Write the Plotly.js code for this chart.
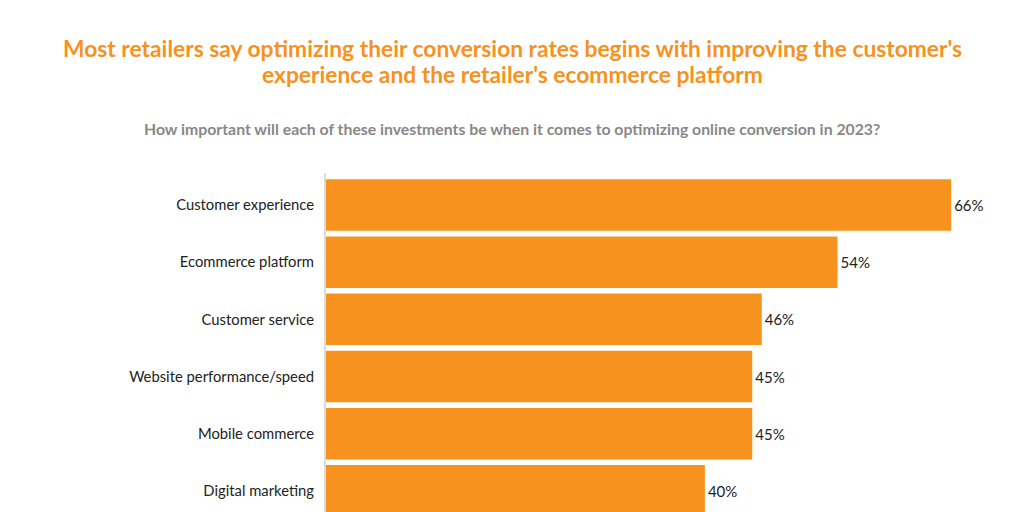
<!DOCTYPE html>
<html>
<head>
<meta charset="utf-8">
<script src="https://cdn.plot.ly/plotly-3.0.1.min.js"></script>
<style>html,body{margin:0;padding:0;background:#fff;}#chart{width:1024px;height:512px;}</style>
</head>
<body>
<div id="chart"></div>
<script>
const categories = ["Customer experience","Ecommerce platform","Customer service","Website performance/speed","Mobile commerce","Digital marketing"];
const values = [66, 54, 46, 45, 45, 40];
const valueLabels = values.map(v => v + "%");
const titleLines = ["Most retailers say optimizing their conversion rates begins with improving the customer's", "experience and the retailer's ecommerce platform"];
const subtitle = "How important will each of these investments be when it comes to optimizing online conversion in 2023?";

const FONT = "Lato, 'Open Sans', sans-serif";
const ORANGE = "#F7921E";

const M = {l: 326, r: 16, t: 173, b: 0};
const plotW = 1024 - M.l - M.r, plotH = 512 - M.t - M.b;
const px2x = px => (px - M.l) / plotW;
const px2y = py => (512 - M.b - py) / plotH;

const trace = {
  type: "bar",
  orientation: "h",
  y: categories,
  x: values,
  text: valueLabels,
  textposition: "outside",
  textfont: {family: FONT, size: 15, color: "#222"},
  marker: {color: ORANGE},
  cliponaxis: false,
  hoverinfo: "none"
};

const layout = {
  width: 1024, height: 512,
  margin: M,
  paper_bgcolor: "#fff", plot_bgcolor: "#fff",
  bargap: 0.1,
  showlegend: false,
  xaxis: {range: [0, 72], visible: false, fixedrange: true},
  yaxis: {
    type: "category",
    range: [5.37, -0.56],
    showline: true, linecolor: "#dcdcdc", linewidth: 2,
    showgrid: false, zeroline: false, ticks: "",
    ticklabelstandoff: 7,
    tickfont: {family: FONT, size: 14.8, color: "#222"},
    fixedrange: true
  },
  annotations: [
    {text: titleLines[0], xref: "paper", yref: "paper", x: px2x(512), y: px2y(47.5),
     xanchor: "center", yanchor: "middle", showarrow: false,
     font: {family: FONT, size: 22.8, color: ORANGE, weight: "bold"}},
    {text: titleLines[1], xref: "paper", yref: "paper", x: px2x(512), y: px2y(74.5),
     xanchor: "center", yanchor: "middle", showarrow: false,
     font: {family: FONT, size: 22.8, color: ORANGE, weight: "bold"}},
    {text: subtitle, xref: "paper", yref: "paper", x: px2x(512), y: px2y(128),
     xanchor: "center", yanchor: "middle", showarrow: false,
     font: {family: FONT, size: 15.8, color: "#888888", weight: "bold"}}
  ]
};

Plotly.newPlot("chart", [trace], layout, {displayModeBar: false, staticPlot: true});
</script>
</body>
</html>
